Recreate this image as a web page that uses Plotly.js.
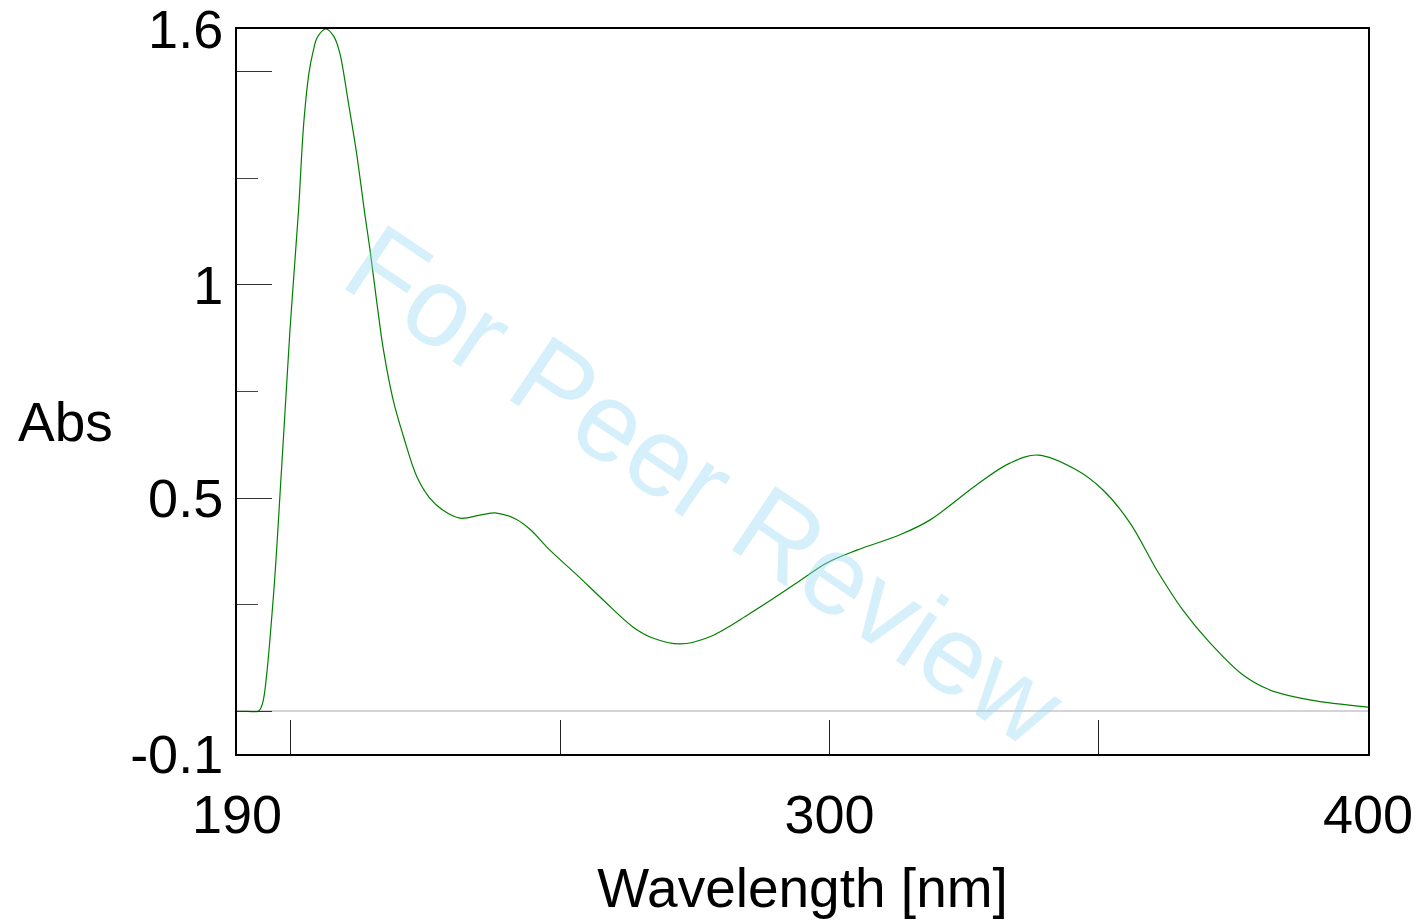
<!DOCTYPE html>
<html>
<head>
<meta charset="utf-8">
<script src="https://cdn.plot.ly/plotly-3.0.1.min.js"></script>
<style>
  html, body { margin: 0; padding: 0; background: #fff; }
  #chart { width: 1422px; height: 921px; }
</style>
</head>
<body>
<div id="chart"></div>
<script>
// Wavelength (nm)
const wavelength = [
  190, 192, 193.9, 194.3, 194.9, 196.7, 198.3, 199.8, 201.4, 202.4, 203.4, 204.1,
  204.9, 206.5, 208.0, 209.1, 209.7, 210.7, 212.2, 213.8, 214.7, 215.9, 217.2,
  219.0, 220.9, 223.4, 225.8, 228.2, 231.4, 235.1, 238.2, 241.9, 244.4, 248.1,
  253.1, 258.0, 263.5, 267.2, 272.3, 277.8, 285.3, 293.9, 299.5, 305.1, 313.1,
  318.7, 327.3, 333.5, 338.7, 345.9, 350.8, 355.8, 360.8, 365.6, 370.7, 376.8,
  381.8, 389.2, 400
];
// Absorbance
const absorbance = [
  0, 0, 0.0, 0.005, 0.027, 0.26, 0.574, 0.887, 1.17, 1.38, 1.50, 1.545,
  1.58, 1.60, 1.582, 1.543, 1.504, 1.426, 1.309, 1.16, 1.082, 0.965, 0.847,
  0.730, 0.645, 0.55, 0.50, 0.472, 0.453, 0.460, 0.465, 0.450, 0.427, 0.378,
  0.320, 0.261, 0.198, 0.172, 0.158, 0.175, 0.230, 0.301, 0.348, 0.378, 0.414,
  0.449, 0.531, 0.582, 0.601, 0.566, 0.519, 0.442, 0.331, 0.238, 0.160, 0.085,
  0.050, 0.027, 0.010
];

const xRange = [190, 400];
const yRange = [-0.1, 1.6];
const xLabelVals = [190, 300, 400];
const xTickVals = [200, 250, 300, 350];
const yLabelVals = [-0.1, 0.5, 1, 1.6];
const yLabelText = ['-0.1', '0.5', '1', '1.6'];
const yMajorTicks = [0, 0.5, 1, 1.5];
const yMinorTicks = [0.25, 0.75, 1.25];

const FONT = 'Liberation Sans, Arial, sans-serif';
const EPS = 1e-6;

const traces = [
  {
    x: wavelength, y: absorbance, type: 'scatter', mode: 'lines',
    line: { color: '#008000', width: 1.2, shape: 'spline', smoothing: 1 },
    hoverinfo: 'skip', showlegend: false
  },
  {
    x: [], y: [], type: 'scatter', mode: 'lines', yaxis: 'y2',
    hoverinfo: 'skip', showlegend: false
  }
];

const layout = {
  width: 1422, height: 921,
  paper_bgcolor: '#ffffff', plot_bgcolor: '#ffffff',
  margin: { l: 237, r: 54, t: 29, b: 167 },
  showlegend: false,
  font: { family: FONT, color: '#000', size: 54 },
  xaxis: {
    range: [xRange[0] - EPS, xRange[1] + EPS], showgrid: false, zeroline: false,
    showline: true, linecolor: '#000', linewidth: 2, mirror: true,
    tickmode: 'array', tickvals: xLabelVals, ticktext: xLabelVals.map(String),
    ticks: '', ticklabelstandoff: 12, ticklabeloverflow: 'allow',
    tickfont: { family: FONT, size: 54, color: '#000' },
    minor: { tickmode: 'array', tickvals: xTickVals, ticks: 'inside', ticklen: 34, tickwidth: 1, tickcolor: '#222' },
    title: { text: 'Wavelength [nm]', font: { family: FONT, size: 55, color: '#000' }, standoff: 26 }
  },
  yaxis: {
    range: [yRange[0] - EPS, yRange[1] + EPS], showgrid: false,
    zeroline: true, zerolinecolor: '#d4d4d4', zerolinewidth: 2,
    showline: true, linecolor: '#000', linewidth: 2, mirror: true,
    tickmode: 'array', tickvals: yLabelVals, ticktext: yLabelText,
    ticks: '', ticklabelstandoff: 1, ticklabeloverflow: 'allow',
    tickfont: { family: FONT, size: 54, color: '#000' },
    minor: { tickmode: 'array', tickvals: yMinorTicks, ticks: 'inside', ticklen: 21, tickwidth: 1, tickcolor: '#444' }
  },
  yaxis2: {
    range: [yRange[0] - EPS, yRange[1] + EPS], overlaying: 'y', side: 'left', showgrid: false, zeroline: false,
    showline: false, tickmode: 'array', tickvals: yMajorTicks,
    ticks: 'inside', ticklen: 35, tickwidth: 1, tickcolor: '#333', showticklabels: false
  },
  annotations: [
    {
      text: 'Abs', xref: 'paper', yref: 'paper', x: -0.152, y: 0.458,
      xanchor: 'center', yanchor: 'middle', showarrow: false,
      font: { family: FONT, size: 55, color: '#000' }
    },
    {
      text: 'For Peer Review', xref: 'paper', yref: 'paper', x: 0.414, y: 0.371,
      xanchor: 'center', yanchor: 'middle', showarrow: false, textangle: 34,
      font: { family: FONT, size: 112, color: 'rgba(150,215,245,0.4)' }
    }
  ]
};

Plotly.newPlot('chart', traces, layout, { staticPlot: true, displayModeBar: false });
</script>
</body>
</html>
